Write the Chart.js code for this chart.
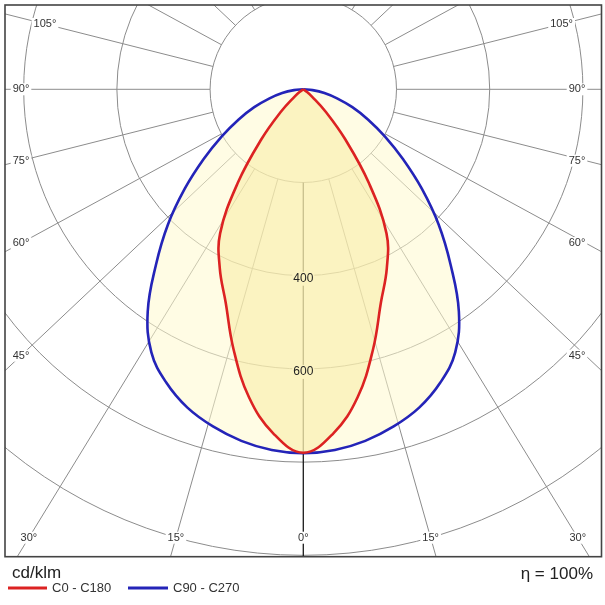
<!DOCTYPE html>
<html>
<head>
<meta charset="utf-8">
<script src="https://cdn.jsdelivr.net/npm/chart.js@4.4.1/dist/chart.umd.min.js"></script>
<style>
  html, body { margin: 0; padding: 0; background: #fff; }
  #wrap { width: 605px; height: 605px; position: relative; }
</style>
</head>
<body>
<div id="wrap"><canvas id="chart" width="605" height="605"></canvas></div>
<script>
// ---- data (cd/klm) ----
const gammaDeg = [0, 5, 10, 15, 20, 25, 30, 35, 40, 45, 50, 55, 60, 65, 70, 75, 80, 85, 90];
const c0c180   = [780, 741, 671, 578, 487, 424, 357, 245, 140, 68, 25, 8, 0, 0, 0, 0, 0, 0, 0];
const c90c270  = [781, 777, 766, 749, 727, 695, 652, 582, 492, 411, 332, 261, 202, 153, 112, 75, 46, 20, 0];
const seriesLabels = ['C0 - C180', 'C90 - C270'];
const ringValues = [200, 400, 600, 800, 1000];
const ringLabelValues = [400, 600];
const spokeAngles = [0, 15, 30, 45, 60, 75, 90, 105, 120, 135, 150, 165, 180];
const labeledAngles = [0, 15, 30, 45, 60, 75, 90, 105];
const unitLabel = 'cd/klm';
const efficiencyLabel = 'η = 100%';

const FONT = "'Liberation Sans', Arial, sans-serif";
const SPOKE_STRETCH = 1.06; // spokes in the reference are drawn slightly widened horizontally

// polar (gamma, value) -> cartesian; left half = C180 / C270, right half = C0 / C90
function curvePoints(values) {
  const pts = [];
  for (let i = gammaDeg.length - 1; i >= 0; i--) {
    const g = gammaDeg[i] * Math.PI / 180;
    pts.push({ x: -values[i] * Math.sin(g), y: -values[i] * Math.cos(g) });
  }
  for (let i = 1; i < gammaDeg.length; i++) {
    const g = gammaDeg[i] * Math.PI / 180;
    pts.push({ x: values[i] * Math.sin(g), y: -values[i] * Math.cos(g) });
  }
  return pts;
}

function spokeDir(gDeg, side) {
  const g = gDeg * Math.PI / 180;
  const dx = side * SPOKE_STRETCH * Math.sin(g), dy = Math.cos(g);
  const n = Math.hypot(dx, dy);
  return [dx / n, dy / n]; // dy > 0 means downward
}

function centre(chart) {
  const { x, y } = chart.scales;
  return [x.getPixelForValue(0), y.getPixelForValue(0)];
}

const polarGrid = {
  id: 'polarGrid',
  beforeDraw(chart) {
    const { ctx, chartArea: a, scales: { x, y } } = chart;
    const [cx, cy] = centre(chart);
    const rpx = v => x.getPixelForValue(v) - cx;
    ctx.save();
    ctx.fillStyle = '#ffffff';
    ctx.fillRect(0, 0, chart.width, chart.height);
    ctx.beginPath();
    ctx.rect(a.left, a.top, a.right - a.left, a.bottom - a.top);
    ctx.clip();
    ctx.lineWidth = 1;
    ctx.strokeStyle = '#8c8c8c';
    ringValues.forEach(v => {
      ctx.beginPath();
      ctx.arc(cx, cy, rpx(v), 0, Math.PI * 2);
      ctx.stroke();
    });
    spokeAngles.forEach(g => {
      [-1, 1].forEach(side => {
        if ((g === 0 || g === 180) && side === 1) return;
        const [dx, dy] = spokeDir(g, side);
        const r0 = ringValues[0], r1 = 4000;
        ctx.beginPath();
        ctx.moveTo(x.getPixelForValue(r0 * dx), y.getPixelForValue(-r0 * dy));
        ctx.lineTo(x.getPixelForValue(r1 * dx), y.getPixelForValue(-r1 * dy));
        ctx.strokeStyle = g === 0 ? '#1a1a1a' : '#8c8c8c';
        ctx.lineWidth = g === 0 ? 1.3 : 1;
        ctx.stroke();
      });
    });
    // gaps behind ring value labels (text itself is drawn above the fill)
    ctx.font = '12px ' + FONT;
    ringLabelValues.forEach(v => {
      const ty = cy + rpx(v) + 3;
      const w = ctx.measureText(String(v)).width;
      ctx.fillStyle = '#ffffff';
      ctx.fillRect(cx - w / 2 - 1, ty - 7, w + 2, 14);
    });
    // angle labels
    ctx.font = '11px ' + FONT;
    ctx.textAlign = 'center';
    ctx.textBaseline = 'middle';
    const D = cx - (a.left + 16), B = a.bottom - 19, T = a.top + 19, R = a.right - 24.5;
    labeledAngles.forEach(g => {
      [-1, 1].forEach(side => {
        if (g === 0 && side === 1) return;
        const [dx, dy] = spokeDir(g, side);
        const tSide = dx !== 0 ? D / Math.abs(dx) : Infinity;
        const tV = dy > 0 ? (B - cy) / dy : (dy < 0 ? (T - cy) / dy : Infinity);
        let lx, ly;
        if (tSide <= tV) {
          ly = cy + tSide * dy;
          lx = side < 0 ? cx - D : R;
        } else {
          lx = cx + tV * dx;
          ly = cy + tV * dy;
        }
        const txt = g + '°';
        const w = ctx.measureText(txt).width;
        ctx.fillStyle = '#ffffff';
        ctx.fillRect(lx - w / 2 - 2, ly - 6, w + 4, 12);
        ctx.fillStyle = '#333';
        ctx.fillText(txt, lx, ly);
      });
    });
    ctx.restore();
  },
  afterDatasetsDraw(chart) {
    const { ctx, scales: { x } } = chart;
    const [cx, cy] = centre(chart);
    ctx.save();
    ctx.font = '12px ' + FONT;
    ctx.textAlign = 'center';
    ctx.textBaseline = 'middle';
    ctx.fillStyle = '#222';
    ringLabelValues.forEach(v => {
      const ty = cy + (x.getPixelForValue(v) - cx) + 3;
      ctx.fillText(String(v), cx, ty);
    });
    ctx.restore();
  },
  afterDraw(chart) {
    const { ctx, chartArea: a } = chart;
    ctx.save();
    ctx.strokeStyle = '#444';
    ctx.lineWidth = 1.6;
    ctx.strokeRect(a.left, a.top, a.right - a.left, a.bottom - a.top);
    ctx.fillStyle = '#222';
    ctx.textBaseline = 'middle';
    ctx.font = '17px ' + FONT;
    ctx.textAlign = 'left';
    ctx.fillText(unitLabel, 12, 573);
    ctx.textAlign = 'right';
    ctx.fillText(efficiencyLabel, 593, 574);
    // legend
    ctx.font = '13px ' + FONT;
    ctx.textAlign = 'left';
    const items = [[8, 47, 52], [128, 168, 173]];
    chart.data.datasets.forEach((ds, i) => {
      const [x0, x1, tx] = items[i];
      ctx.strokeStyle = ds.borderColor;
      ctx.lineWidth = 3;
      ctx.beginPath(); ctx.moveTo(x0, 588); ctx.lineTo(x1, 588); ctx.stroke();
      ctx.fillStyle = '#333';
      ctx.fillText(ds.label, tx, 588.5);
    });
    ctx.restore();
  }
};

new Chart(document.getElementById('chart'), {
  type: 'line',
  data: {
    datasets: [
      {
        label: seriesLabels[0],
        data: curvePoints(c0c180),
        borderColor: '#dc2222',
        backgroundColor: 'rgba(247, 234, 158, 0.5)',
        fill: 'shape',
        borderWidth: 2.6,
        pointRadius: 0,
        tension: 0.4
      },
      {
        label: seriesLabels[1],
        data: curvePoints(c90c270),
        borderColor: '#2424b8',
        backgroundColor: 'rgba(255, 250, 205, 0.55)',
        fill: 'shape',
        borderWidth: 2.6,
        pointRadius: 0,
        tension: 0.4
      }
    ]
  },
  options: {
    responsive: false,
    animation: false,
    events: [],
    layout: { autoPadding: false, padding: { left: 5, top: 5, right: 3.5, bottom: 48.3 } },
    scales: {
      x: { type: 'linear', min: -640.1, max: 639.9, display: false },
      y: { type: 'linear', min: -1003, max: 180.9, display: false }
    },
    plugins: {
      legend: { display: false },
      tooltip: { enabled: false },
      filler: { drawTime: 'beforeDatasetsDraw' }
    }
  },
  plugins: [polarGrid]
});
</script>
</body>
</html>
